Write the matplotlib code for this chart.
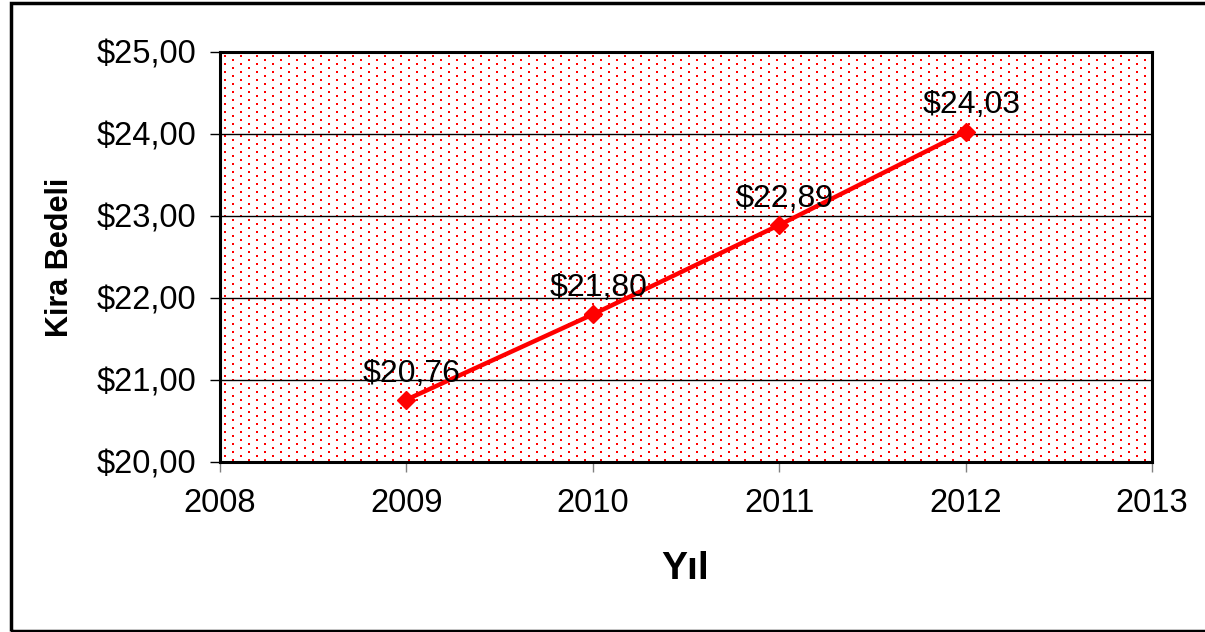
import matplotlib
matplotlib.use("Agg")
import matplotlib.pyplot as plt
import numpy as np
from matplotlib.patches import Rectangle
from matplotlib.ticker import FuncFormatter

plt.rcParams['font.family'] = ['Liberation Sans', 'DejaVu Sans']

years = [2009, 2010, 2011, 2012]
rent = [20.76, 21.80, 22.89, 24.03]
labels = ["$20,76", "$21,80", "$22,89", "$24,03"]

W, H = 1205, 632
fig = plt.figure(figsize=(W / 100, H / 100), dpi=100)
x0, x1, y0, y1 = 220, 1152, 52, 462
ax = fig.add_axes([x0 / W, 1 - y1 / H, (x1 - x0) / W, (y1 - y0) / H])

ax.set_xlim(2008, 2013)
ax.set_ylim(20, 25)

# dotted red background texture (one pixel per texel)
pw, ph = x1 - x0, y1 - y0
tex = np.zeros((ph, pw, 4))
for r in range(3, ph, 4):
    off = 4 if (r // 4) % 2 == 0 else 12
    for c in range(off, pw, 16):
        tex[r:r + 2, c:c + 2] = [1, 0, 0, 1]
ax.imshow(tex, extent=[2008, 2013, 20, 25], aspect='auto',
          interpolation='nearest', zorder=0, origin='upper')

ax.set_yticks(np.arange(20, 26, 1))
ax.set_xticks(np.arange(2008, 2014, 1))
ax.yaxis.set_major_formatter(FuncFormatter(lambda v, p: ("$%.2f" % v).replace(".", ",")))
ax.grid(axis='y', color='black', linewidth=1)

ax.plot(years, rent, color='#ff0000', linewidth=3.2, marker='D',
        markersize=9, zorder=3)
for x, y, t in zip(years, rent, labels):
    ax.annotate(t, (x, y), xytext=(4, 13), textcoords='offset points',
                ha='center', va='baseline', fontsize=23, zorder=4)

for s in ax.spines.values():
    s.set_linewidth(2.2)
    s.set_color('black')
ax.tick_params(axis='both', labelsize=23.5, length=7, width=1)
ax.tick_params(axis='x', pad=12, color='#808080')
ax.tick_params(axis='y', pad=10, color='black')

fig.text(685 / W, 1 - 569 / H, "Yıl", fontsize=28, fontweight='bold',
         ha='center', va='center')
fig.text(60 / W, 1 - 257 / H, "Kira Bedeli", fontsize=22, fontweight='bold',
         rotation=90, ha='center', va='center')

fig.patches.append(Rectangle((10.5 / W, 1.5 / H), 1.0, (629.5 - 1.5) / H,
                             transform=fig.transFigure, fill=False,
                             edgecolor='black', linewidth=2.5))

fig.savefig("out.png", dpi=100)
